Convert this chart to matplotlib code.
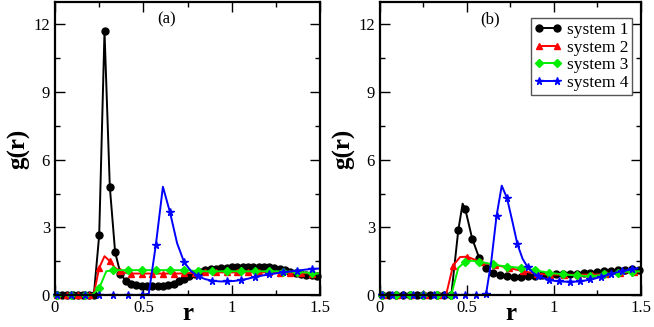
import numpy as np
import matplotlib.pyplot as plt
from matplotlib.lines import Line2D
from matplotlib.ticker import MultipleLocator

plt.rcParams['font.family'] = ['Liberation Serif', 'DejaVu Serif']

labels = ['system 1', 'system 2', 'system 3', 'system 4']

# ---- panel (a) ----
r_a1 = np.round(0.01 + 0.03 * np.arange(50), 3)
g_a1 = [0, 0, 0, 0, 0, 0, 0, 0.02, 2.65, 11.7, 4.8, 1.9, 0.95, 0.62, 0.48, 0.42,
        0.40, 0.40, 0.40, 0.40, 0.40, 0.43, 0.50, 0.60, 0.72, 0.85, 0.95, 1.03,
        1.09, 1.13, 1.16, 1.19, 1.21, 1.22, 1.23, 1.24, 1.24, 1.24, 1.24, 1.23,
        1.22, 1.20, 1.16, 1.10, 1.03, 0.97, 0.92, 0.89, 0.87, 0.86]

r_a2 = np.round(0.01 + 0.03 * np.arange(50), 3)
g_a2 = [0, 0, 0, 0, 0, 0, 0, 0.05, 1.2, 1.72, 1.5, 1.2, 1.05, 0.98, 0.95, 0.95,
        0.95, 0.95, 0.95, 0.95, 0.95, 0.95, 0.95, 0.95, 0.96, 0.97, 0.98, 0.99,
        1.0, 1.0, 1.0, 1.0, 1.0, 1.0, 1.0, 1.0, 1.0, 1.0, 1.0, 1.0,
        1.0, 0.99, 0.99, 0.98, 0.98, 0.97, 0.97, 0.96, 0.95, 0.95]

r_a3 = np.round(0.01 + 0.04 * np.arange(38), 3)
g_a3 = [0, 0, 0, 0, 0, 0, 0.3, 1.05, 1.1, 1.1, 1.1, 1.1, 1.1, 1.1, 1.1, 1.1,
        1.1, 1.1, 1.1, 1.08, 1.06, 1.05, 1.05, 1.05, 1.05, 1.05, 1.05, 1.05,
        1.05, 1.05, 1.05, 1.05, 1.04, 1.03, 1.02, 1.0, 0.96, 0.95]

r_a4 = np.round(0.01 + 0.04 * np.arange(38), 3)
g_a4 = [0, 0, 0, 0, 0, 0, 0, 0, 0, 0, 0, 0, 0, 0.05, 2.22, 4.8, 3.67, 2.3,
        1.45, 1.05, 0.82, 0.70, 0.63, 0.60, 0.60, 0.62, 0.66, 0.72, 0.80, 0.86,
        0.91, 0.96, 1.0, 1.04, 1.08, 1.12, 1.15, 1.17]

# ---- panel (b) ----
r_b1 = [0.01, 0.05, 0.09, 0.13, 0.17, 0.21, 0.25, 0.29, 0.33, 0.37, 0.41, 0.45,
        0.475, 0.49, 0.53, 0.57, 0.61, 0.65, 0.69, 0.73, 0.77, 0.81, 0.85, 0.89,
        0.93, 0.97, 1.01, 1.05, 1.09, 1.13, 1.17, 1.21, 1.25, 1.29, 1.33, 1.37,
        1.41, 1.45, 1.49]
g_b1 = [0, 0, 0, 0, 0, 0, 0, 0, 0, 0, 0, 2.86, 4.05, 3.82, 2.5, 1.65, 1.2,
        0.97, 0.88, 0.83, 0.81, 0.81, 0.82, 0.84, 0.87, 0.9, 0.91, 0.92, 0.93,
        0.94, 0.96, 0.98, 1.01, 1.05, 1.08, 1.1, 1.12, 1.13, 1.12]

r_b2 = np.round(0.02 + 0.04 * np.arange(38), 3)
g_b2 = [0, 0, 0, 0, 0, 0, 0, 0, 0, 0, 1.3, 1.68, 1.7, 1.58, 1.45, 1.38, 1.32,
        1.27, 1.2, 1.13, 1.06, 1.0, 0.95, 0.92, 0.9, 0.9, 0.9, 0.9, 0.9, 0.9,
        0.9, 0.91, 0.93, 0.95, 0.97, 1.0, 1.02, 1.03]

r_b3 = np.round(0.01 + 0.04 * np.arange(38), 3)
g_b3 = [0, 0, 0, 0, 0, 0, 0, 0, 0, 0, 0, 1.2, 1.48, 1.52, 1.47, 1.42, 1.36,
        1.3, 1.26, 1.23, 1.2, 1.15, 1.1, 1.04, 0.99, 0.95, 0.92, 0.89, 0.87,
        0.85, 0.83, 0.86, 0.92, 0.96, 0.99, 1.02, 1.04, 1.05]

r_b4 = np.round(0.01 + 0.03 * np.arange(50), 3)
g_b4 = [0, 0, 0, 0, 0, 0, 0, 0, 0, 0, 0, 0, 0, 0, 0, 0, 0, 0, 0, 0, 0.05, 1.5,
        3.5, 4.85, 4.3, 3.3, 2.25, 1.6, 1.22, 0.98, 0.83, 0.75, 0.68, 0.63, 0.6,
        0.59, 0.59, 0.59, 0.6, 0.64, 0.69, 0.74, 0.8, 0.87, 0.94, 1.0, 1.05,
        1.1, 1.15, 1.18]

colors = ['black', '#ff0000', '#00ee00', '#0000ff']
markers = ['o', '^', 'D', '*']
msizes = [5, 5, 4, 5.5]

fig = plt.figure(figsize=(6.54, 3.27), dpi=100)
ax_a = fig.add_axes([0.084, 0.098, 0.406, 0.896])
ax_b = fig.add_axes([0.581, 0.098, 0.399, 0.896])

series_a = [(r_a1, g_a1, 1), (r_a2, g_a2, 2), (r_a3, g_a3, 2), (r_a4, g_a4, 2)]
mk_b1 = [i for i in range(len(r_b1)) if i != 12]
series_b = [(r_b1, g_b1, mk_b1), (r_b2, g_b2, 2), (r_b3, g_b3, 2), (r_b4, g_b4, 2)]

for ax, series, tag in [(ax_a, series_a, '(a)'), (ax_b, series_b, '(b)')]:
    for (r, g, mk), c, m, ms in zip(series, colors, markers, msizes):
        ax.plot(r, g, color=c, lw=1.4, marker=m, ms=ms, markevery=mk,
                clip_on=False)
    ax.set_xlim(0, 1.5)
    ax.set_ylim(0, 13)
    ax.xaxis.set_minor_locator(MultipleLocator(0.25))
    ax.yaxis.set_major_locator(MultipleLocator(3))
    ax.yaxis.set_minor_locator(MultipleLocator(1.5))
    ax.set_xticks([0, 0.5, 1, 1.5], ['0', '0.5', '1', '1.5'])
    ax.tick_params(which='both', direction='in', top=True, right=True,
                   labelsize=12, width=1)
    ax.tick_params(which='major', length=7)
    ax.tick_params(which='minor', length=3.5)
    for s in ax.spines.values():
        s.set_linewidth(1.6)
    ax.set_xlabel('r', fontsize=18, fontweight='bold', labelpad=-10)
    ax.set_ylabel('g(r)', fontsize=18, fontweight='bold', labelpad=2)
    ax.text(0.42, 0.94, tag, transform=ax.transAxes, fontsize=12,
            ha='center', va='center')

handles = [Line2D([], [], color=c, lw=1.4, marker=m, ms=ms)
           for c, m, ms in zip(colors, markers, msizes)]
leg = ax_b.legend(handles, labels, loc='upper right',
                  bbox_to_anchor=(0.966, 0.945), fontsize=12.5,
                  numpoints=2, handlelength=1.6, handletextpad=0.3,
                  labelspacing=0.1, borderpad=0.2, borderaxespad=0,
                  fancybox=False, framealpha=1)
leg.get_frame().set_edgecolor('#555555')
leg.get_frame().set_linewidth(1.0)

fig.savefig('out.png', dpi=100)
